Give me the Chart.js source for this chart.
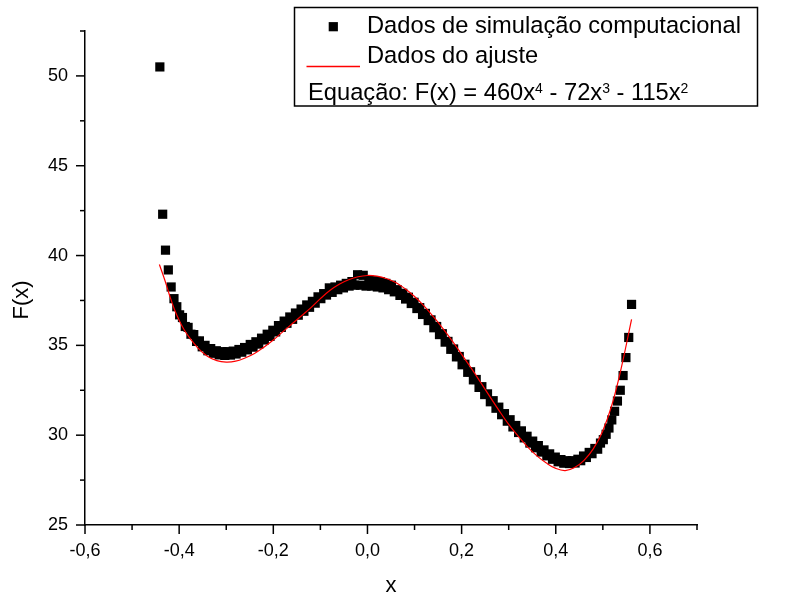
<!DOCTYPE html>
<html><head><meta charset="utf-8">
<script src="https://cdn.jsdelivr.net/npm/chart.js@4.4.1/dist/chart.umd.min.js"></script>
<style>html,body{margin:0;padding:0;background:#fff;}canvas{display:block;}</style>
</head><body>
<canvas id="c" width="797" height="601"></canvas>
<script>
// ---- data ----
const simX = [-0.441,-0.435,-0.429,-0.423,-0.417,-0.411,-0.405,-0.399,-0.393,-0.387,-0.381,-0.375,-0.369,-0.363,-0.357,-0.351,-0.345,-0.339,-0.333,-0.327,-0.321,-0.315,-0.309,-0.303,-0.297,-0.291,-0.285,-0.279,-0.273,-0.267,-0.261,-0.255,-0.249,-0.243,-0.237,-0.231,-0.225,-0.219,-0.213,-0.207,-0.201,-0.195,-0.189,-0.183,-0.177,-0.171,-0.165,-0.159,-0.153,-0.147,-0.141,-0.135,-0.129,-0.123,-0.117,-0.111,-0.105,-0.099,-0.093,-0.087,-0.081,-0.075,-0.069,-0.063,-0.057,-0.051,-0.045,-0.039,-0.033,-0.027,-0.021,-0.015,-0.009,-0.003,0.003,0.009,0.015,0.021,0.027,0.033,0.039,0.045,0.051,0.057,0.063,0.069,0.075,0.081,0.087,0.093,0.099,0.105,0.111,0.117,0.123,0.129,0.135,0.141,0.147,0.153,0.159,0.165,0.171,0.177,0.183,0.189,0.195,0.201,0.207,0.213,0.219,0.225,0.231,0.237,0.243,0.249,0.255,0.261,0.267,0.273,0.279,0.285,0.291,0.297,0.303,0.309,0.315,0.321,0.327,0.333,0.339,0.345,0.351,0.357,0.363,0.369,0.375,0.381,0.387,0.393,0.399,0.405,0.411,0.417,0.423,0.429,0.435,0.441,0.447,0.453,0.459,0.465,0.471,0.477,0.483,0.489,0.495,0.501,0.507,0.513,0.519,0.525,0.531,0.537,0.543,0.549,0.555,0.561];
const simY = [50.5,42.3,40.3,39.2,38.25,37.6,37.15,36.7,36.55,36.05,36.0,35.62,35.6,35.22,35.25,34.92,35.0,34.7,34.82,34.56,34.7,34.47,34.65,34.44,34.65,34.46,34.68,34.52,34.77,34.62,34.88,34.75,35.05,34.9,35.2,35.07,35.4,35.3,35.62,35.5,35.84,35.75,36.1,36.0,36.35,36.23,36.58,36.45,36.8,36.68,37.02,36.9,37.25,37.12,37.45,37.35,37.7,37.6,37.88,37.8,38.2,37.95,38.25,38.1,38.35,38.2,38.45,38.3,38.55,38.35,38.93,38.35,38.9,38.3,38.65,38.3,38.6,38.25,38.55,38.2,38.45,38.1,38.35,37.98,38.1,37.78,37.9,37.58,37.68,37.33,37.4,37.05,37.1,36.72,36.78,36.38,36.42,35.98,36.05,35.6,35.65,35.18,35.22,34.78,34.8,34.36,34.38,33.92,33.95,33.5,33.53,33.08,33.1,32.66,32.7,32.26,32.3,31.86,31.92,31.5,31.56,31.14,31.2,30.78,30.86,30.46,30.54,30.15,30.24,29.85,29.94,29.56,29.67,29.3,29.42,29.06,29.18,28.85,28.96,28.66,28.78,28.52,28.64,28.44,28.58,28.42,28.58,28.45,28.66,28.58,28.84,28.76,29.04,28.97,29.26,29.22,29.56,29.75,30.05,30.4,30.85,31.33,31.9,32.5,33.32,34.32,35.44,37.28];
const fitX = [-0.442,-0.43,-0.42,-0.41,-0.40,-0.39,-0.38,-0.36,-0.34,-0.32,-0.30,-0.28,-0.26,-0.24,-0.22,-0.20,-0.18,-0.16,-0.14,-0.12,-0.10,-0.08,-0.06,-0.04,-0.02,0.00,0.02,0.04,0.06,0.08,0.10,0.12,0.14,0.16,0.18,0.20,0.22,0.24,0.26,0.28,0.30,0.32,0.34,0.36,0.38,0.40,0.42,0.44,0.46,0.48,0.50,0.52,0.54,0.561];
const fitY = [39.5,38.6,37.75,37.0,36.4,35.9,35.5,34.85,34.4,34.15,34.07,34.12,34.3,34.55,34.9,35.3,35.75,36.2,36.65,37.1,37.6,38.05,38.4,38.65,38.82,38.89,38.85,38.72,38.5,38.15,37.72,37.2,36.6,35.95,35.25,34.5,33.75,32.95,32.15,31.35,30.6,29.95,29.35,28.85,28.45,28.15,28.03,28.2,28.6,29.25,30.25,31.75,33.85,36.45];
const xTickValues = [-0.6,-0.4,-0.2,0,0.2,0.4,0.6];
const xMinorValues = [-0.6,-0.5,-0.4,-0.3,-0.2,-0.1,0,0.1,0.2,0.3,0.4,0.5,0.6,0.7];
const yTickValues = [25,30,35,40,45,50];
const yMinorValues = [25,27.5,30,32.5,35,37.5,40,42.5,45,47.5,50,52.5];
const seriesNames = ['Dados de simulação computacional','Dados do ajuste'];
const equationParts = [['Equação: F(x) = 460x',false],['4',true],[' - 72x',false],['3',true],[' - 115x',false],['2',true]];
const xTitle = 'x';
const yTitle = 'F(x)';

const FAM = "'Liberation Sans', Arial, Helvetica, sans-serif";
const fmt = v => { const s = Math.abs(v) < 1e-9 ? '0.0' : v.toFixed(1); return s.replace('.', ','); };

const axisTicks = {
  id: 'axisTicks',
  afterDraw(chart) {
    const {ctx, scales: {x, y}} = chart;
    ctx.save();
    ctx.strokeStyle = '#000'; ctx.lineWidth = 1.5;
    xMinorValues.forEach(v => {
      const px = x.getPixelForValue(v);
      const major = xTickValues.some(t => Math.abs(t - v) < 1e-9);
      ctx.beginPath(); ctx.moveTo(px, x.top); ctx.lineTo(px, x.top + (major ? 9 : 5)); ctx.stroke();
    });
    yMinorValues.forEach(v => {
      const py = y.getPixelForValue(v);
      const major = yTickValues.some(t => Math.abs(t - v) < 1e-9);
      ctx.beginPath(); ctx.moveTo(y.right, py); ctx.lineTo(y.right - (major ? 9 : 5), py); ctx.stroke();
    });
    ctx.fillStyle = '#000';
    ctx.font = '22px ' + FAM;
    ctx.textAlign = 'center'; ctx.textBaseline = 'middle';
    ctx.translate(22, 300); ctx.rotate(-Math.PI / 2);
    ctx.fillText(yTitle, 0, 0);
    ctx.restore();
  }
};

const boxLegend = {
  id: 'boxLegend',
  afterDraw(chart) {
    const ctx = chart.ctx;
    const ds = chart.data.datasets;
    ctx.save();
    ctx.fillStyle = '#fff';
    ctx.fillRect(294, 7, 464, 99);
    ctx.strokeStyle = '#000'; ctx.lineWidth = 1.5;
    ctx.strokeRect(294.5, 7.5, 463, 98.5);
    ctx.fillStyle = ds[0].pointBackgroundColor;
    ctx.fillRect(333.3 - 4.6, 26.7 - 4.6, 9.2, 9.2);
    ctx.strokeStyle = ds[1].borderColor; ctx.lineWidth = 1.5;
    ctx.beginPath(); ctx.moveTo(306.5, 66.5); ctx.lineTo(360, 66.5); ctx.stroke();
    ctx.fillStyle = '#000';
    ctx.textAlign = 'left'; ctx.textBaseline = 'alphabetic';
    ctx.font = '23.7px ' + FAM;
    ctx.fillText(ds[0].label, 367, 33);
    ctx.fillText(ds[1].label, 367, 63);
    let xp = 308;
    equationParts.forEach(([t, sup]) => {
      ctx.font = (sup ? '14px ' : '23.7px ') + FAM;
      ctx.fillText(t, xp, sup ? 93 : 100);
      xp += ctx.measureText(t).width;
    });
    ctx.restore();
  }
};

new Chart(document.getElementById('c'), {
  type: 'scatter',
  data: {
    datasets: [
      {
        label: seriesNames[0],
        data: simX.map((x, i) => ({x: x, y: simY[i]})),
        pointStyle: 'rect', pointRadius: 6.5, pointBackgroundColor: '#000', pointBorderWidth: 0,
        backgroundColor: '#000', borderColor: '#000', showLine: false, order: 2
      },
      {
        type: 'line',
        label: seriesNames[1],
        data: fitX.map((x, i) => ({x: x, y: fitY[i]})),
        borderColor: '#ff0000', borderWidth: 1.2, pointRadius: 0, tension: 0.4, fill: false, order: 1
      }
    ]
  },
  options: {
    responsive: false, animation: false,
    layout: {padding: {left: 0, right: 100, top: 31, bottom: 0}},
    plugins: {legend: {display: false}, tooltip: {enabled: false}},
    scales: {
      x: {
        type: 'linear', min: -0.6, max: 0.7,
        afterBuildTicks: s => { s.ticks = xTickValues.map(v => ({value: v})); },
        afterFit: s => { s.height = 76; },
        grid: {display: false, drawTicks: false},
        border: {display: true, color: '#000', width: 1.5},
        ticks: {padding: 15, color: '#000', font: {family: FAM, size: 18}, maxRotation: 0, callback: v => fmt(v)},
        title: {display: true, text: xTitle, color: '#000', font: {family: FAM, size: 22}, padding: {top: 0, bottom: 2}}
      },
      y: {
        type: 'linear', min: 25, max: 52.5,
        afterBuildTicks: s => { s.ticks = yTickValues.map(v => ({value: v})); },
        afterFit: s => { s.width = 85; },
        grid: {display: false, drawTicks: false},
        border: {display: true, color: '#000', width: 1.5},
        ticks: {padding: 17, color: '#000', font: {family: FAM, size: 18}, callback: v => String(v)}
      }
    }
  },
  plugins: [axisTicks, boxLegend]
});
</script>
</body></html>
